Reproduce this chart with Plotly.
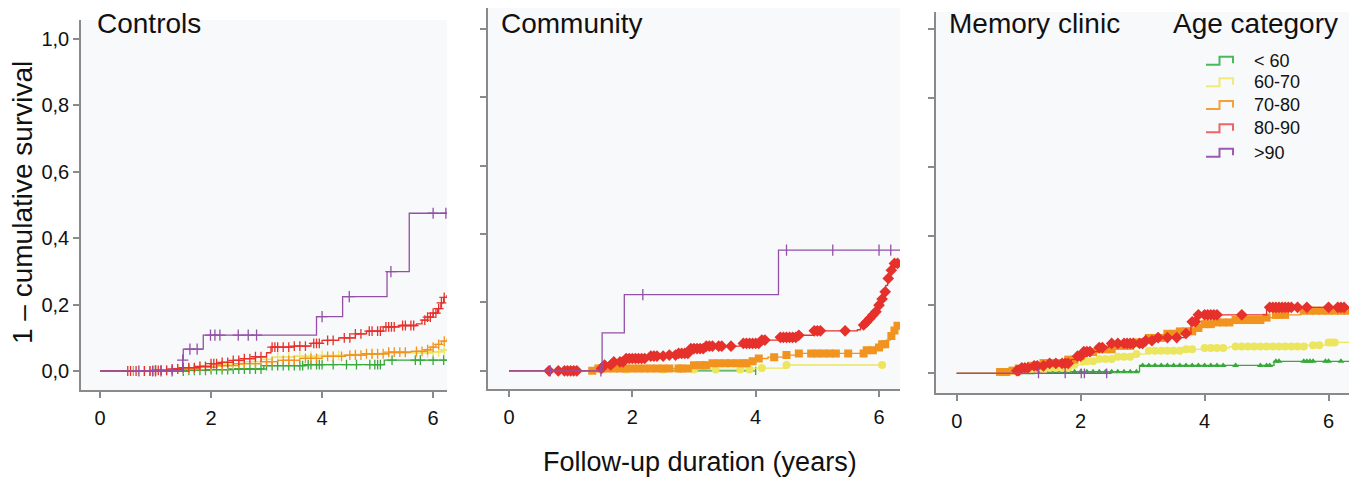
import numpy as np
import plotly.graph_objects as go

# ---------------- data ----------------
panels = ["Controls", "Community", "Memory clinic"]
groups = ["< 60", "60-70", "70-80", "80-90", ">90"]
x_ticks = [0, 2, 4, 6]
y_ticks = [0.0, 0.2, 0.4, 0.6, 0.8, 1.0]

# Controls
ctrl_g1_t = [0, 1.6, 2.0, 2.4, 2.95, 3.7, 5.12, 6.25]
ctrl_g1_v = [0, 0.002, 0.004, 0.006, 0.016, 0.019, 0.033, 0.033]
ctrl_g1_c = [1.5, 1.6, 1.7, 1.8, 1.9, 2.0, 2.1, 2.2, 2.3, 2.4, 2.5, 2.6, 2.7, 2.8, 2.9, 3.0, 3.1, 3.2,
             3.3, 3.4, 3.5, 3.6, 3.65, 3.75, 3.8, 3.9, 3.95, 4.0, 4.2, 4.44, 4.62, 4.86, 4.95, 5.0,
             5.05, 5.26, 5.68, 5.77, 6.0, 6.19]
ctrl_g2_t = [0, 1.0, 1.4, 1.8, 2.2, 2.6, 2.9, 3.1, 3.5, 4.0, 4.5, 5.0, 5.5, 6.0, 6.15, 6.25]
ctrl_g2_v = [0, 0.003, 0.008, 0.014, 0.02, 0.028, 0.035, 0.042, 0.045, 0.047, 0.05, 0.053, 0.055,
             0.058, 0.064, 0.066]
ctrl_g2_c = [0.7, 1.0, 1.1, 1.3, 1.4, 1.6, 1.8, 2.0, 2.2, 2.4, 2.6, 2.8, 3.0, 3.2, 3.4, 3.6, 3.8,
             4.0, 4.3, 4.6, 4.9, 5.2, 5.5, 5.7, 5.9, 6.0, 6.1, 6.2]
ctrl_g3_t = [0, 1.0, 1.4, 1.8, 2.1, 2.5, 2.9, 3.2, 3.6, 4.0, 4.4, 4.8, 5.2, 5.6, 5.85, 5.95, 6.05,
             6.15, 6.25]
ctrl_g3_v = [0, 0.002, 0.006, 0.011, 0.016, 0.022, 0.028, 0.032, 0.038, 0.044, 0.048, 0.052, 0.057,
             0.059, 0.064, 0.072, 0.08, 0.09, 0.098]
ctrl_g3_c = [0.6, 0.8, 0.9, 1.0, 1.1, 1.2, 1.3, 1.5, 1.6, 1.7, 1.9, 2.0, 2.2, 2.3, 2.5, 2.6, 2.8,
             3.0, 3.1, 3.3, 3.4, 3.5, 3.7, 3.8, 3.9, 4.1, 4.2, 4.35, 4.5, 4.6, 4.7, 4.8, 4.9, 5.0,
             5.1, 5.2, 5.3, 5.4, 5.5, 5.7, 5.8, 5.9, 6.0, 6.1, 6.2]
ctrl_g4_t = [0, 1.0, 1.3, 1.5, 1.8, 2.0, 2.2, 2.4, 2.6, 2.8, 3.0, 3.08, 3.5, 3.8, 4.0, 4.3, 4.6,
             4.8, 5.1, 5.4, 5.7, 5.8, 5.9, 6.0, 6.08, 6.14, 6.19, 6.25]
ctrl_g4_v = [0, 0.002, 0.006, 0.01, 0.014, 0.022, 0.026, 0.032, 0.037, 0.043, 0.055, 0.072, 0.075,
             0.083, 0.092, 0.1, 0.112, 0.12, 0.133, 0.137, 0.142, 0.153, 0.162, 0.174, 0.188,
             0.205, 0.222, 0.229]
ctrl_g4_c = [0.5, 0.55, 0.65, 0.8, 0.9, 0.95, 1.0, 1.05, 1.1, 1.2, 1.3, 1.4, 1.5, 1.6, 1.7, 1.8,
             1.9, 2.0, 2.05, 2.1, 2.2, 2.3, 2.4, 2.5, 2.6, 2.7, 2.8, 2.9, 3.1, 3.15, 3.2, 3.3, 3.4,
             3.5, 3.6, 3.7, 3.85, 3.9, 3.95, 4.1, 4.2, 4.4, 4.5, 4.6, 4.7, 4.85, 4.9, 5.0, 5.05,
             5.15, 5.2, 5.25, 5.3, 5.45, 5.5, 5.6, 5.65, 5.85, 5.9, 5.95, 6.0, 6.05, 6.1, 6.15, 6.2]
ctrl_g5_t = [0, 1.49, 1.5, 1.86, 3.9, 4.37, 5.17, 5.57, 6.25]
ctrl_g5_v = [0, 0.033, 0.066, 0.108, 0.164, 0.224, 0.299, 0.475, 0.475]
ctrl_g5_c = [0.7, 0.95, 1.0, 1.1, 1.3, 1.49, 1.62, 1.75, 1.99, 2.07, 2.16, 2.49, 2.67, 2.82, 4.0,
             4.49, 5.24, 6.0, 6.23]

# Community
comm_g1_t = [0, 4.0]
comm_g1_v = [0, 0]
comm_g1_c = [4.0]
comm_g2_t = [0, 1.8, 3.95, 4.5, 6.07]
comm_g2_v = [0, 0.004, 0.008, 0.017, 0.017]
comm_g2_c = [1.9, 2.5, 3.0, 3.35, 3.75, 3.9, 4.1, 4.5, 6.05]
comm_g3_t = [0, 1.4, 2.95, 3.3, 3.9, 4.0, 4.2, 4.45, 4.65, 5.8, 5.95, 6.05, 6.12, 6.18, 6.24,
             6.29, 6.34]
comm_g3_v = [0, 0.007, 0.016, 0.022, 0.028, 0.036, 0.04, 0.046, 0.051, 0.06, 0.068, 0.078, 0.09,
             0.102, 0.118, 0.132, 0.132]
comm_g3_c = [1.35, 1.45, 1.5, 1.6, 1.7, 1.8, 1.9, 2.0, 2.1, 2.2, 2.3, 2.4, 2.5, 2.6, 2.75, 2.8,
             2.9, 3.0, 3.1, 3.15, 3.2, 3.3, 3.4, 3.5, 3.6, 3.7, 3.8, 3.85, 3.95, 4.05, 4.3, 4.5,
             4.7, 4.9, 5.0, 5.1, 5.2, 5.3, 5.5, 5.75, 5.8, 5.9, 6.0, 6.05, 6.1, 6.2, 6.25, 6.3]
comm_g4_t = [0, 1.48, 1.52, 1.7, 1.86, 2.24, 2.51, 2.73, 2.95, 3.16, 3.75, 4.08, 4.4, 4.67, 4.95,
             5.65, 5.7, 5.76, 5.81, 5.87, 5.92, 5.96, 6.0, 6.04, 6.08, 6.11, 6.14, 6.19, 6.24, 6.3]
comm_g4_v = [0, 0.007, 0.017, 0.026, 0.036, 0.043, 0.046, 0.051, 0.065, 0.072, 0.08, 0.09, 0.098,
             0.104, 0.117, 0.12, 0.134, 0.143, 0.153, 0.163, 0.173, 0.182, 0.192, 0.21, 0.231,
             0.25, 0.27, 0.294, 0.314, 0.314]
comm_g4_c = [0.65, 0.8, 0.9, 0.95, 1.0, 1.05, 1.1, 1.5, 1.55, 1.65, 1.7, 1.8, 1.85, 1.9, 1.95,
             2.0, 2.05, 2.1, 2.15, 2.2, 2.3, 2.35, 2.4, 2.5, 2.6, 2.7, 2.75, 2.8, 2.85, 2.9, 2.95,
             3.0, 3.05, 3.1, 3.15, 3.2, 3.25, 3.3, 3.4, 3.45, 3.6, 3.8, 3.85, 3.9, 3.95, 4.0,
             4.05, 4.1, 4.15, 4.4, 4.45, 4.5, 4.55, 4.6, 4.65, 4.7, 4.95, 5.0, 5.05, 5.45, 5.75,
             5.8, 5.85, 5.9, 5.95, 6.0, 6.05, 6.1, 6.15, 6.2, 6.25, 6.3]
comm_g5_t = [0, 1.51, 1.87, 4.37, 6.34]
comm_g5_v = [0, 0.111, 0.223, 0.353, 0.353]
comm_g5_c = [0.67, 1.49, 2.17, 4.5, 5.25, 6.0, 6.19]

# Memory clinic
mem_g1_t = [0, 0.95, 1.3, 2.95, 5.12, 6.33]
mem_g1_v = [0, 0.002, 0.005, 0.023, 0.035, 0.035]
mem_g1_c = [1.0, 1.1, 1.2, 1.35, 1.4, 1.5, 1.6, 1.7, 1.8, 1.9, 2.0, 2.1, 2.2, 2.3, 2.4, 2.5, 2.6,
            2.7, 2.8, 2.9, 3.0, 3.1, 3.2, 3.3, 3.4, 3.5, 3.6, 3.7, 3.8, 3.9, 4.0, 4.1, 4.2, 4.3,
            4.5, 4.9, 5.0, 5.05, 5.15, 5.2, 5.6, 5.65, 5.7, 5.75, 5.95, 6.0, 6.2]
mem_g2_t = [0, 0.7, 1.2, 1.5, 1.9, 2.03, 2.3, 2.6, 2.9, 3.05, 3.7, 3.95, 4.4, 5.65, 5.97, 6.33]
mem_g2_v = [0, 0.003, 0.01, 0.016, 0.025, 0.035, 0.042, 0.048, 0.056, 0.066, 0.07, 0.074, 0.078,
            0.082, 0.09, 0.09]
mem_g2_c = [0.7, 0.8, 1.25, 1.4, 1.5, 1.6, 1.7, 1.8, 1.9, 2.05, 2.1, 2.2, 2.3, 2.4, 2.5, 2.6, 2.7,
            2.8, 2.9, 3.1, 3.2, 3.3, 3.4, 3.5, 3.6, 3.7, 3.8, 4.0, 4.1, 4.2, 4.3, 4.5, 4.6, 4.7,
            4.8, 4.9, 5.0, 5.1, 5.2, 5.3, 5.4, 5.5, 5.6, 5.75, 5.85, 6.0, 6.05, 6.1]
mem_g3_t = [0, 0.68, 0.85, 1.0, 1.2, 1.4, 1.8, 1.97, 2.1, 2.3, 2.6, 2.9, 3.1, 3.35, 3.6, 3.85,
            3.95, 4.2, 4.5, 4.95, 5.1, 5.55, 6.33]
mem_g3_v = [0, 0.004, 0.008, 0.014, 0.022, 0.03, 0.04, 0.05, 0.062, 0.07, 0.08, 0.09, 0.103,
            0.115, 0.122, 0.132, 0.143, 0.148, 0.155, 0.162, 0.17, 0.182, 0.182]
mem_g3_c = [0.7, 0.75, 0.8, 0.9, 1.0, 1.1, 1.2, 1.3, 1.4, 1.5, 1.6, 1.7, 1.8, 1.9, 2.0, 2.1, 2.2,
            2.3, 2.4, 2.5, 2.6, 2.7, 2.8, 2.9, 3.0, 3.1, 3.2, 3.3, 3.4, 3.5, 3.6, 3.7, 3.8, 3.9,
            4.0, 4.1, 4.2, 4.3, 4.4, 4.5, 4.6, 4.7, 4.8, 4.9, 5.0, 5.15, 5.2, 5.3, 5.6, 5.7, 5.8,
            5.9, 6.0, 6.1, 6.2, 6.3]
mem_g4_t = [0, 0.95, 1.05, 1.2, 1.5, 1.85, 1.95, 2.05, 2.3, 2.45, 3.05, 3.2, 3.7, 3.78, 3.88,
            5.0, 6.33]
mem_g4_v = [0, 0.008, 0.016, 0.022, 0.029, 0.04, 0.05, 0.063, 0.075, 0.087, 0.095, 0.104, 0.116,
            0.15, 0.17, 0.192, 0.192]
mem_g4_c = [0.97, 1.0, 1.05, 1.1, 1.15, 1.25, 1.3, 1.4, 1.5, 1.6, 1.7, 1.75, 1.8, 1.95, 2.0,
            2.05, 2.1, 2.15, 2.3, 2.35, 2.5, 2.6, 2.7, 2.75, 2.8, 2.85, 2.95, 3.0, 3.05, 3.15,
            3.25, 3.4, 3.55, 3.7, 3.8, 3.85, 3.9, 4.0, 4.05, 4.1, 4.15, 4.2, 4.6, 5.05, 5.1,
            5.15, 5.2, 5.25, 5.3, 5.35, 5.4, 5.5, 5.65, 6.0, 6.15, 6.2, 6.25]
mem_g5_t = [0, 2.42]
mem_g5_v = [0, 0]
mem_g5_c = [1.32, 1.75, 2.01, 2.06, 2.42]

# ---------------- styling ----------------
colors = ["#36a93a", "#ece65e", "#f1931f", "#e6302b", "#9350a8"]
legend_colors = ["#4cb85c", "#f2ea78", "#f6a03c", "#ef6464", "#9a5ab4"]
BG = "#f8f9fa"
AX = "#8a8a8a"
FONT = "Liberation Sans, Arial, sans-serif"
OFF = 8                      # page body margin of the html page
W, H = 1361 - 2 * OFF, 485 - 2 * OFF

panel_data = [
    [(ctrl_g1_t, ctrl_g1_v, ctrl_g1_c), (ctrl_g2_t, ctrl_g2_v, ctrl_g2_c),
     (ctrl_g3_t, ctrl_g3_v, ctrl_g3_c), (ctrl_g4_t, ctrl_g4_v, ctrl_g4_c),
     (ctrl_g5_t, ctrl_g5_v, ctrl_g5_c)],
    [(comm_g1_t, comm_g1_v, comm_g1_c), (comm_g2_t, comm_g2_v, comm_g2_c),
     (comm_g3_t, comm_g3_v, comm_g3_c), (comm_g4_t, comm_g4_v, comm_g4_c),
     (comm_g5_t, comm_g5_v, comm_g5_c)],
    [(mem_g1_t, mem_g1_v, mem_g1_c), (mem_g2_t, mem_g2_v, mem_g2_c),
     (mem_g3_t, mem_g3_v, mem_g3_c), (mem_g4_t, mem_g4_v, mem_g4_c),
     (mem_g5_t, mem_g5_v, mem_g5_c)],
]

symbols = [
    ["cross-thin-open"] * 5,
    ["line-ns-open", "circle", "square", "diamond", "line-ns-open"],
    ["triangle-up", "circle", "square", "diamond", "cross-thin-open"],
]
msizes = [
    [7, 7, 7, 7, 8],
    [6, 8, 8, 9, 8],
    [6, 8, 8, 9, 7],
]


def step_lookup(t, v, c):
    t = np.asarray(t, float)
    v = np.asarray(v, float)
    idx = np.searchsorted(t, np.asarray(c, float), side="right") - 1
    return v[np.clip(idx, 0, len(v) - 1)]


fig = go.Figure()
for p, pdata in enumerate(panel_data):
    xa = "x" if p == 0 else f"x{p+1}"
    ya = "y" if p == 0 else f"y{p+1}"
    for g, (t, v, c) in enumerate(pdata):
        col = colors[g]
        fig.add_trace(go.Scatter(x=t, y=v, mode="lines", line=dict(color=col, width=1.3, shape="hv"),
                                 xaxis=xa, yaxis=ya, showlegend=False, hoverinfo="skip"))
        sym = symbols[p][g]
        open_sym = sym.endswith("open")
        fig.add_trace(go.Scatter(
            x=c, y=step_lookup(t, v, c), mode="markers", xaxis=xa, yaxis=ya, showlegend=False,
            hoverinfo="skip",
            marker=dict(symbol=sym, size=msizes[p][g], color=col,
                        line=dict(color=col, width=1.3 if open_sym else 0))))


def px_x(px):
    return (px - OFF) / W


def px_y(py):
    return 1 - (py - OFF) / H


xdom = [(81, 447), (488, 900), (936, 1349)]
ydom = [(390, 20), (389.3, 8), (393, 12)]
xr = [(-0.342, 6.25), (-0.34, 6.34), (-0.334, 6.33)]
yr = [(-0.0572, 1.057), (-0.054, 1.0605), (-0.057, 1.050)]

axis_common = dict(showline=True, linecolor=AX, linewidth=1.5, ticks="outside", tickcolor=AX,
                   tickwidth=1.5, ticklen=6, showgrid=False, zeroline=False, mirror=False)
layout_axes = {}
for p in range(3):
    xk = "xaxis" if p == 0 else f"xaxis{p+1}"
    yk = "yaxis" if p == 0 else f"yaxis{p+1}"
    layout_axes[xk] = dict(domain=[px_x(xdom[p][0]), px_x(xdom[p][1])], range=list(xr[p]),
                           tickvals=x_ticks, ticktext=[str(v) for v in x_ticks],
                           tickfont=dict(family=FONT, size=20, color="#111"),
                           ticklabelstandoff=3,
                           anchor="y" if p == 0 else f"y{p+1}", **axis_common)
    layout_axes[yk] = dict(domain=[px_y(ydom[p][0]), px_y(ydom[p][1])], range=list(yr[p]),
                           tickvals=y_ticks, tickformat=".1f", showticklabels=(p == 0),
                           tickfont=dict(family=FONT, size=20, color="#111"),
                           anchor="x" if p == 0 else f"x{p+1}", **axis_common)

annotations = []
title_pos = [(95, 24), (499, 23), (947, 23)]
for p, name in enumerate(panels):
    annotations.append(dict(text=name, x=px_x(title_pos[p][0]), y=px_y(title_pos[p][1]),
                            xref="paper", yref="paper", xanchor="left", yanchor="middle",
                            showarrow=False, font=dict(family=FONT, size=28, color="#111")))
annotations.append(dict(text="Age category", x=px_x(1340), y=px_y(23), xref="paper",
                        yref="paper", xanchor="right", yanchor="middle", showarrow=False,
                        font=dict(family=FONT, size=28, color="#111")))
annotations.append(dict(text="1 \u2013 cumulative survival", x=px_x(23), y=px_y(203),
                        xref="paper", yref="paper", xanchor="center", yanchor="middle",
                        textangle=-90, showarrow=False,
                        font=dict(family=FONT, size=28, color="#111")))
annotations.append(dict(text="Follow-up duration (years)", x=px_x(700), y=px_y(462),
                        xref="paper", yref="paper", xanchor="center", yanchor="middle",
                        showarrow=False, font=dict(family=FONT, size=27, color="#111")))

# manual legend (step-shaped icons)
shapes = []
row_y = [60.7, 82.3, 105, 128.3, 152.7]
for g, name in enumerate(groups):
    cy = row_y[g]
    x0, xm, x1 = 1206, 1219.5, 1233
    ylo, yhi, ydrop = cy + 4, cy - 4, cy + 2.5
    path = (f"M {px_x(x0)},{px_y(ylo)} L {px_x(xm)},{px_y(ylo)} L {px_x(xm)},{px_y(yhi)} "
            f"L {px_x(x1)},{px_y(yhi)} L {px_x(x1)},{px_y(ydrop)}")
    shapes.append(dict(type="path", path=path, xref="paper", yref="paper",
                       line=dict(color=legend_colors[g], width=2)))
    annotations.append(dict(text=name, x=px_x(1252), y=px_y(cy), xref="paper", yref="paper",
                            xanchor="left", yanchor="middle", showarrow=False,
                            font=dict(family=FONT, size=18, color="#111")))

fig.update_layout(width=W, height=H, margin=dict(l=0, r=0, t=0, b=0), paper_bgcolor="white",
                  plot_bgcolor=BG, separators=", ", showlegend=False,
                  annotations=annotations, shapes=shapes, **layout_axes)

fig.write_html("out.html")
